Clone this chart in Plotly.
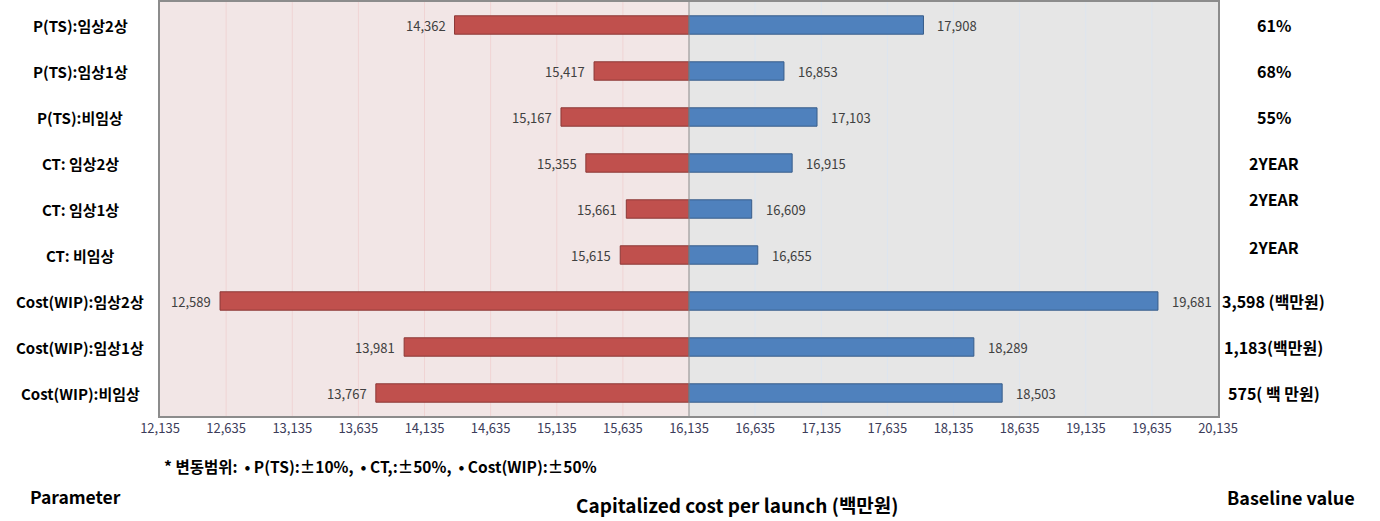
import plotly.graph_objects as go

baseline = 16135
params = ["P(TS):임상2상", "P(TS):임상1상", "P(TS):비임상", "CT: 임상2상", "CT: 임상1상",
          "CT: 비임상", "Cost(WIP):임상2상", "Cost(WIP):임상1상", "Cost(WIP):비임상"]
low_vals = [14362, 15417, 15167, 15355, 15661, 15615, 12589, 13981, 13767]
high_vals = [17908, 16853, 17103, 16915, 16609, 16655, 19681, 18289, 18503]
baseline_labels = ["61%", "68%", "55%", "2YEAR", "2YEAR", "2YEAR",
                   "3,598 (백만원)", "1,183(백만원)", "575( 백 만원)"]
baseline_yshift = [0, 0, 0, 0, 10, 8, 0, 0, 0]
tick_vals = list(range(12135, 20136, 500))
tick_text = [f"{v:,}" for v in tick_vals]

KR = "Noto Sans CJK KR"
x_min, x_max = 12135, 20135

fig = go.Figure()
fig.add_trace(go.Bar(
    y=params, x=[v - baseline for v in low_vals], base=baseline, orientation="h",
    width=0.4, marker=dict(color="#c0504d", line=dict(color="#8c3836", width=1)),
    hoverinfo="skip", showlegend=False))
fig.add_trace(go.Bar(
    y=params, x=[v - baseline for v in high_vals], base=baseline, orientation="h",
    width=0.4, marker=dict(color="#4f81bd", line=dict(color="#385d8a", width=1)),
    hoverinfo="skip", showlegend=False))

shapes = [
    dict(type="rect", xref="x", yref="paper", x0=x_min, x1=baseline, y0=0, y1=1,
         fillcolor="#f2e6e6", line=dict(width=0), layer="below"),
    dict(type="rect", xref="x", yref="paper", x0=baseline, x1=x_max, y0=0, y1=1,
         fillcolor="#e6e6e6", line=dict(width=0), layer="below"),
]
for v in tick_vals[1:-1]:
    if v < baseline:
        col = "#f0d4d4"
    elif v > baseline:
        col = "#dde5ef"
    else:
        continue
    shapes.append(dict(type="line", xref="x", yref="paper", x0=v, x1=v, y0=0, y1=1,
                       line=dict(color=col, width=1), layer="below"))
shapes.append(dict(type="line", xref="x", yref="paper", x0=baseline, x1=baseline, y0=0, y1=1,
                   line=dict(color="#8a8a8a", width=1), layer="above"))

annotations = []
for p, lo, hi, bl, ys in zip(params, low_vals, high_vals, baseline_labels, baseline_yshift):
    annotations.append(dict(x=lo, y=p, xref="x", yref="y", text=f"{lo:,}", showarrow=False,
                            xanchor="right", xshift=-7,
                            font=dict(family=KR, size=13, color="#404040")))
    annotations.append(dict(x=hi, y=p, xref="x", yref="y", text=f"{hi:,}", showarrow=False,
                            xanchor="left", xshift=12,
                            font=dict(family=KR, size=13, color="#404040")))
    annotations.append(dict(x=-0.0756, y=p, xref="paper", yref="y", text=f"<b>{p}</b>",
                            showarrow=False, xanchor="center",
                            font=dict(family=KR, size=15, color="#000000")))
    annotations.append(dict(x=1.0529, y=p, xref="paper", yref="y", text=f"<b>{bl}</b>",
                            showarrow=False, xanchor="center", yshift=ys,
                            font=dict(family=KR, size=16, color="#000000")))

annotations.append(dict(x=0.002, y=-0.12, xref="paper", yref="paper", showarrow=False,
                        xanchor="left", yanchor="middle",
                        text="<b>* 변동범위:  • P(TS):±10%,  • CT,:±50%,  • Cost(WIP):±50%</b>",
                        font=dict(family=KR, size=15.5, color="#000000")))
annotations.append(dict(x=-0.0803, y=-0.1947, xref="paper", yref="paper", showarrow=False,
                        xanchor="center", yanchor="middle", text="<b>Parameter</b>",
                        font=dict(family=KR, size=17.5, color="#000000")))
annotations.append(dict(x=0.5454, y=-0.214, xref="paper", yref="paper", showarrow=False,
                        xanchor="center", yanchor="middle",
                        text="<b>Capitalized cost per launch (백만원)</b>",
                        font=dict(family=KR, size=19, color="#000000")))
annotations.append(dict(x=1.069, y=-0.1947, xref="paper", yref="paper", showarrow=False,
                        xanchor="center", yanchor="middle", text="<b>Baseline value</b>",
                        font=dict(family=KR, size=18, color="#000000")))

fig.update_layout(
    width=1380, height=521,
    margin=dict(l=160, r=162, t=0, b=105),
    paper_bgcolor="#ffffff", plot_bgcolor="#e6e6e6",
    barmode="overlay", showlegend=False,
    shapes=shapes, annotations=annotations,
    xaxis=dict(range=[x_min, x_max], tickvals=tick_vals, ticktext=tick_text,
               showgrid=False, zeroline=False, showline=True, mirror=True,
               linecolor="#8c8c8c", linewidth=1.5, ticks="",
               tickfont=dict(family=KR, size=13, color="#3c3c5a")),
    yaxis=dict(categoryorder="array", categoryarray=params, autorange="reversed",
               range=[8.5, -0.5], showticklabels=False, showgrid=False, zeroline=False,
               showline=True, mirror=True, linecolor="#8c8c8c", linewidth=1.5, ticks=""),
)

fig.write_html("out.html")
